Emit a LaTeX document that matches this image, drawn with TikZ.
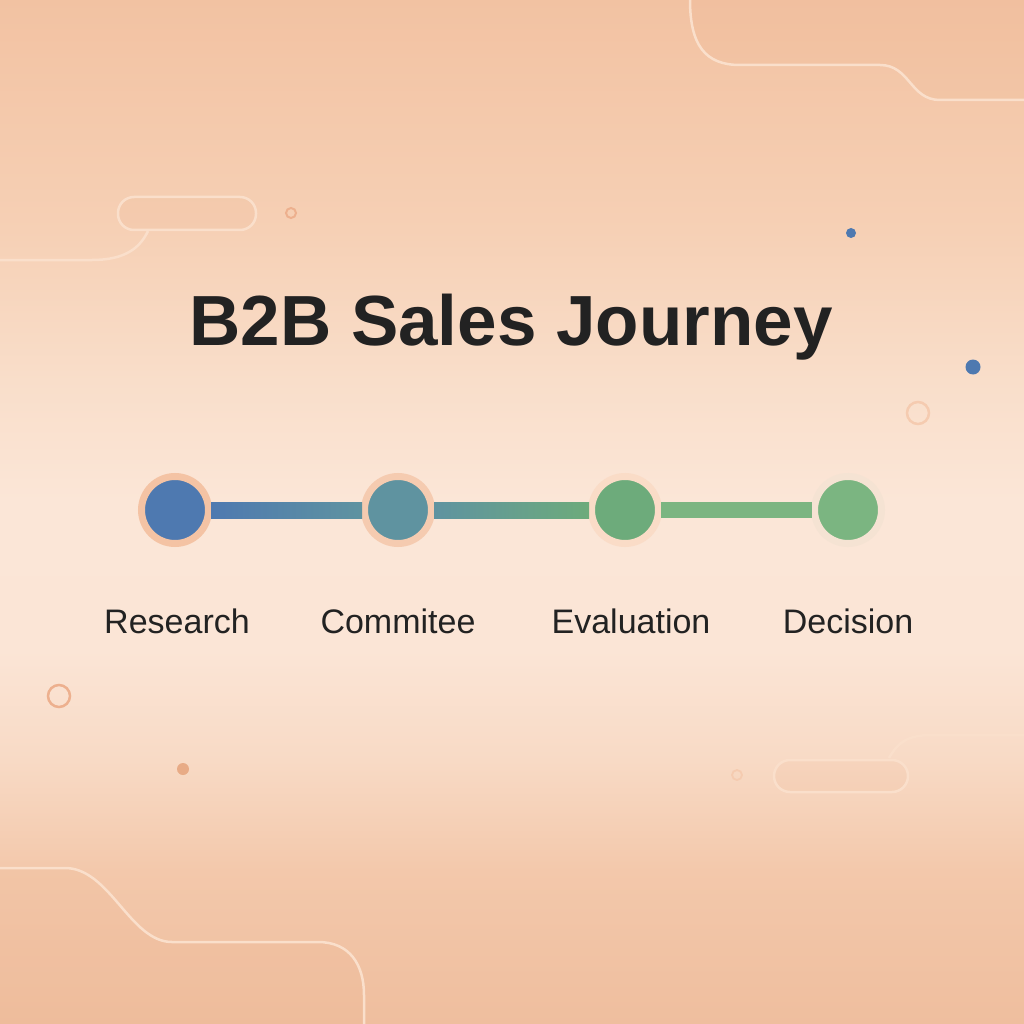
\documentclass[tikz,border=0pt]{standalone}
\usepackage{fontspec}
\setmainfont{Liberation Sans}
\usetikzlibrary{calc}
\definecolor{bgA}{HTML}{F2C2A2}
\definecolor{bgB}{HTML}{F6D0B5}
\definecolor{bgC}{HTML}{F9DECA}
\definecolor{bgD}{HTML}{FBE6D7}
\definecolor{bgE}{HTML}{FBE5D6}
\definecolor{bgF}{HTML}{F8DAC5}
\definecolor{bgG}{HTML}{F3C8AB}
\definecolor{bgH}{HTML}{EFBE9E}
\definecolor{blobfill}{HTML}{EDB48F}
\definecolor{blobline}{HTML}{FADFCB}
\definecolor{stepblue}{HTML}{4E79B0}
\definecolor{stepteal}{HTML}{5F93A0}
\definecolor{stepgreen}{HTML}{6DAB7B}
\definecolor{steplight}{HTML}{7BB581}
\definecolor{ringA}{HTML}{F4C3A4}
\definecolor{ringB}{HTML}{F5CBB0}
\definecolor{ringC}{HTML}{FADCC7}
\definecolor{ringD}{HTML}{F5E3D3}
\definecolor{deco}{HTML}{EDB08E}
\definecolor{txt}{HTML}{222222}
\tikzset{
  stepdot/.style={circle, inner sep=0pt, minimum size=67pt, line width=7pt},
  steplabel/.style={anchor=base, text=txt, font=\fontsize{34}{40}\selectfont},
  blobedge/.style={draw=blobline, line width=2.5pt},
  decoring/.style={draw=deco, line width=2.5pt},
}
\begin{document}
\begin{tikzpicture}[x=1pt,y=-1pt]
\useasboundingbox (0,0) rectangle (1024,1024);
% background
\shade[top color=bgA, bottom color=bgB] (0,-1) rectangle (1024,231);
\shade[top color=bgB, bottom color=bgC] (0,230) rectangle (1024,381);
\shade[top color=bgC, bottom color=bgD] (0,380) rectangle (1024,501);
\shade[top color=bgD, bottom color=bgE] (0,500) rectangle (1024,651);
\shade[top color=bgE, bottom color=bgF] (0,650) rectangle (1024,761);
\shade[top color=bgF, bottom color=bgG] (0,760) rectangle (1024,871);
\shade[top color=bgG, bottom color=bgH] (0,870) rectangle (1024,1025);
% top-right blob
\fill[blobfill, opacity=0.15] (690,0) .. controls (690,45) and (705,65) .. (740,65) -- (880,65) .. controls (910,65) and (910,100) .. (940,100) -- (1024,100) -- (1024,0) -- cycle;
\draw[blobedge] (690,0) .. controls (690,45) and (705,65) .. (740,65) -- (880,65) .. controls (910,65) and (910,100) .. (940,100) -- (1024,100);
% left pill and line
\draw[blobedge, fill=blobfill, fill opacity=0.15, rounded corners=16pt] (118,197) rectangle (256,230);
\draw[blobedge] (0,260) -- (92,260) .. controls (125,260) and (140,248) .. (148,231);
% bottom-right pill and line
\draw[blobedge, fill=blobfill, fill opacity=0.15, rounded corners=16pt] (774,760) rectangle (908,792);
\draw[blobedge] (889,758) .. controls (898,742) and (908,735) .. (932,735) -- (1024,735);
% bottom-left blob
\fill[blobfill, opacity=0.15] (0,868) -- (65,868) .. controls (110,868) and (130,942) .. (172,942) -- (318,942) .. controls (350,942) and (364,965) .. (364,995) -- (364,1024) -- (0,1024) -- cycle;
\draw[blobedge] (0,868) -- (65,868) .. controls (110,868) and (130,942) .. (172,942) -- (318,942) .. controls (350,942) and (364,965) .. (364,995) -- (364,1024);
% small decorations
\draw[decoring, line width=2pt] (291,213) circle (5);
\fill[stepblue] (851,233) circle (5);
\fill[stepblue] (973,367) circle (7.5);
\draw[decoring, draw=ringB] (918,413) circle (11);
\draw[decoring] (59,696) circle (11);
\fill[deco!90!brown] (183,769) circle (6);
\draw[decoring, draw=ringB, line width=1.8pt] (737,775) circle (5);
% title
\node[anchor=base, text=txt, font=\fontsize{71}{80}\selectfont\bfseries] (title) at (511,345) {B2B Sales Journey};
% steps
\node[stepdot, fill=stepblue, draw=ringA] (s1) at (175,510) {};
\node[stepdot, fill=stepteal, draw=ringB] (s2) at (398,510) {};
\node[stepdot, fill=stepgreen, draw=ringC] (s3) at (625,510) {};
\node[stepdot, fill=steplight, draw=ringD] (s4) at (848,510) {};
\shade[left color=stepblue, right color=stepteal] ($(s1.east)+(-1,-8)$) rectangle ($(s2.west)+(1,8)$);
\shade[left color=stepteal, right color=stepgreen] ($(s2.east)+(-1,-8)$) rectangle ($(s3.west)+(1,8)$);
\fill[steplight] ($(s3.east)+(-1,-8)$) rectangle ($(s4.west)+(1,8)$);
\node[steplabel] (l1) at (177,633) {Research};
\node[steplabel] (l2) at (398,633) {Commitee};
\node[steplabel] (l3) at (631,633) {Evaluation};
\node[steplabel] (l4) at (848,633) {Decision};
\end{tikzpicture}
\end{document}
